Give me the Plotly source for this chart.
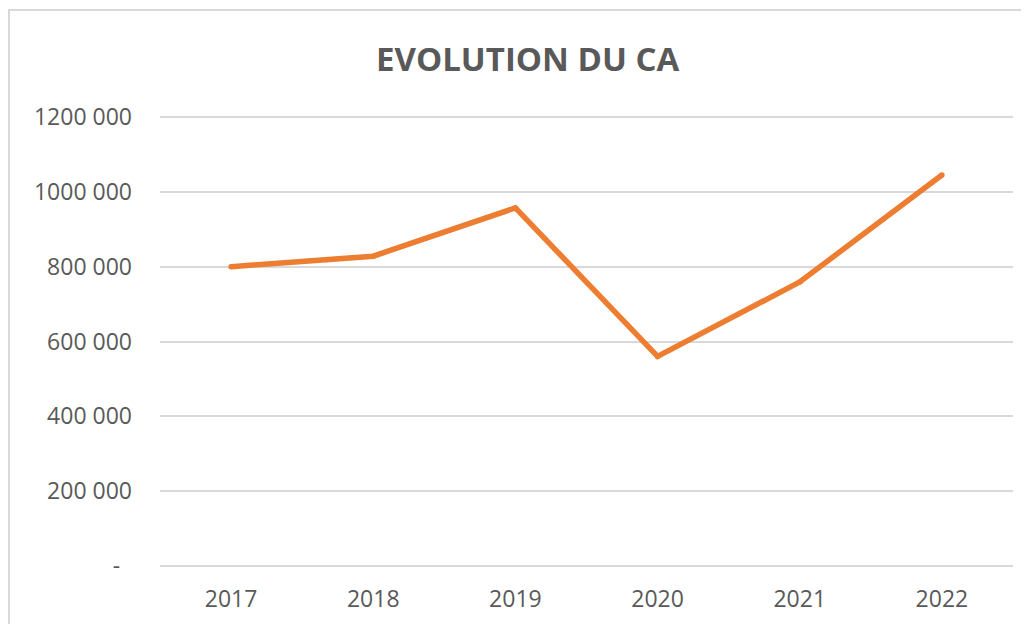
import plotly.graph_objects as go

years = ["2017", "2018", "2019", "2020", "2021", "2022"]
ca_values = [800000, 828000, 957000, 560000, 759000, 1045000]
y_tick_values = [0, 200000, 400000, 600000, 800000, 1000000, 1200000]
y_tick_labels = ["-\u00a0\u00a0", "200 000", "400 000", "600 000", "800 000", "1000 000", "1200 000"]

FONT = "Open Sans"
GREY = "#595959"

fig = go.Figure()
fig.add_trace(go.Scatter(
    x=years, y=ca_values, mode="lines+markers",
    line=dict(color="#ED7D31", width=5.5),
    marker=dict(color="#ED7D31", size=5.5),
    hoverinfo="x+y",
))

fig.update_layout(
    width=1029, height=624,
    margin=dict(l=152, r=24, t=107, b=64),
    paper_bgcolor="white", plot_bgcolor="white",
    showlegend=False,
    title=dict(text="<b>EVOLUTION DU CA</b>", x=0.505, xanchor="center",
               y=0.917, yanchor="middle",
               font=dict(family=FONT, size=33, color=GREY)),
    font=dict(family=FONT, size=23, color=GREY),
    xaxis=dict(type="category", range=[-0.5, 5.5], showgrid=False, zeroline=False,
               showline=False, ticks="", ticklabelstandoff=15,
               tickfont=dict(family=FONT, size=23, color=GREY)),
    yaxis=dict(range=[-5300, 1205300], tickvals=y_tick_values, ticktext=y_tick_labels,
               showgrid=True, gridcolor="#D9D9D9", gridwidth=1.5,
               zeroline=False, showline=False, ticks="",
               ticklabelstandoff=27,
               tickfont=dict(family=FONT, size=23, color=GREY)),
    shapes=[dict(type="rect", xref="paper", yref="paper",
                 x0=-0.177, x1=1.2, y0=-0.3, y1=1.232,
                 line=dict(color="#D9D9D9", width=2), fillcolor="rgba(0,0,0,0)",
                 layer="below")],
)

fig.write_html("out.html")
